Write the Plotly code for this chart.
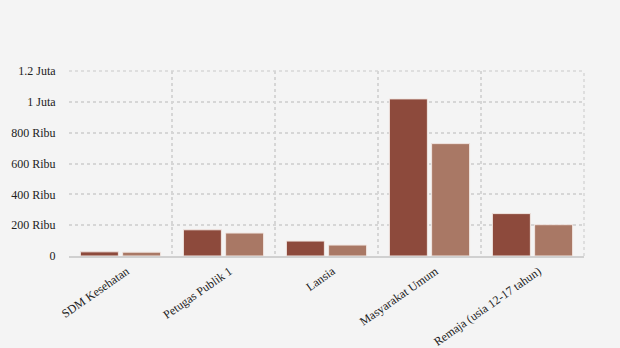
import plotly.graph_objects as go

categories = ["SDM Kesehatan", "Petugas Publik 1", "Lansia", "Masyarakat Umum", "Remaja (usia 12-17 tahun)"]
series_a = [27000, 170000, 97000, 1019000, 275000]
series_b = [25000, 149000, 71000, 729000, 203000]
ytick_vals = [0, 200000, 400000, 600000, 800000, 1000000, 1200000]
ytick_text = ["0", "200 Ribu", "400 Ribu", "600 Ribu", "800 Ribu", "1 Juta", "1.2 Juta"]

fig = go.Figure()
fig.add_trace(go.Bar(x=categories, y=series_a, name="Dosis 1",
                     marker=dict(color="#8d4a3c", line=dict(color="#f1e6e2", width=1))))
fig.add_trace(go.Bar(x=categories, y=series_b, name="Dosis 2",
                     marker=dict(color="#a97865", line=dict(color="#f1e6e2", width=1))))

fig.update_layout(
    width=620, height=348,
    margin=dict(l=69, r=36, t=71, b=92),
    paper_bgcolor="#f4f4f4", plot_bgcolor="#f4f4f4",
    showlegend=False,
    barmode="group", bargap=0.18, bargroupgap=0.1,
    font=dict(family="Liberation Serif, Times New Roman, serif", size=12, color="#222"),
)
fig.update_xaxes(
    automargin=False,
    tickson="boundaries", showgrid=True, gridcolor="#d6d6d6", griddash="dot", gridwidth=1.5,
    tickangle=-35, ticks="", showline=True, linecolor="#d0d0d0", linewidth=1.5,
    tickfont=dict(size=12), mirror=False, ticklabelshift=6, ticklabelstandoff=2,
)
fig.update_yaxes(
    automargin=False,
    range=[0, 1200000], tickvals=ytick_vals, ticktext=ytick_text,
    showgrid=True, gridcolor="#d6d6d6", griddash="dot", gridwidth=1.5,
    zeroline=False, ticks="outside", ticklen=10, tickcolor="rgba(0,0,0,0)", tickfont=dict(size=12),
)
fig.add_shape(type="line", xref="paper", yref="paper", x0=1, x1=1, y0=0, y1=1,
              line=dict(color="#d6d6d6", dash="dot", width=1.5))
fig.add_shape(type="line", xref="paper", yref="paper", x0=0, x1=1, y0=1, y1=1,
              line=dict(color="#d6d6d6", dash="dot", width=1.5))
fig.write_html("out.html")
